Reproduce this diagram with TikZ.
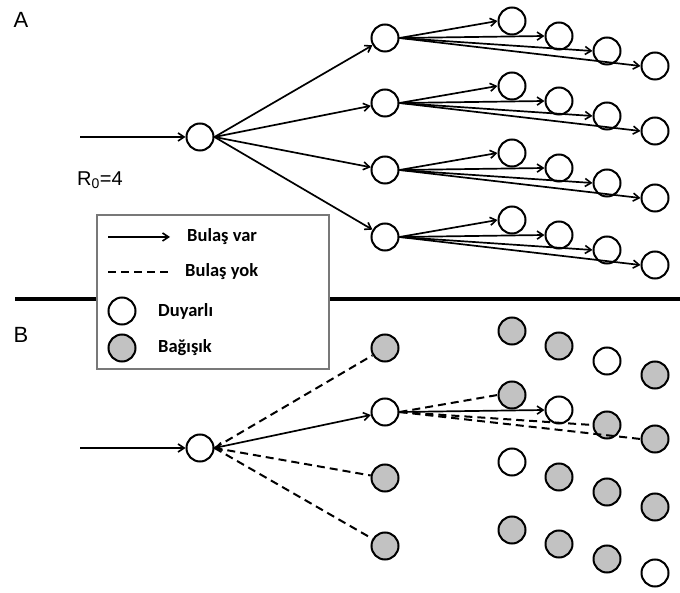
\documentclass[tikz,border=0pt]{standalone}
\usepackage{fontspec}
\setmainfont{Liberation Sans}
\newfontfamily\legendfont{Carlito}
\usetikzlibrary{arrows.meta}
\definecolor{immune}{RGB}{194,194,194}
\definecolor{boxline}{RGB}{120,120,120}
\tikzset{
  person/.style={circle, draw=black, line width=2pt, minimum size=27pt, inner sep=0pt, fill=white},
  susc/.style={person},
  immun/.style={person, fill=immune},
  barb/.tip={Straight Barb[length=6pt,width=8pt,line width=1.6pt]},
  spread/.style={line width=1.7pt, -barb},
  nospread/.style={line width=2pt, dash pattern=on 8pt off 5pt},
  panel/.style={font=\fontsize{22}{24}\selectfont, anchor=center},
  legtext/.style={font=\legendfont\bfseries\fontsize{18.5}{20}\selectfont, anchor=west, inner sep=0pt},
}
\begin{document}
\begin{tikzpicture}[x=1pt, y=-1pt]
\useasboundingbox (0,0) rectangle (680,593);

% ---------- panel A: everyone susceptible ----------
\node[panel] (labA) at (21,20) {A};
\coordinate (srcA) at (80,137);
\node[susc] (a0) at (200,137) {};
\node[font=\fontsize{20}{22}\selectfont] (r0) at (100,180) {R\textsubscript{0}=4};
\draw[spread] (srcA) -- (a0);

\foreach \i/\y in {1/38, 2/103, 3/170, 4/237} {
  \node[susc] (a\i) at (385,\y) {};
  \draw[spread] (a0.east) -- (a\i);
  \foreach \j/\x/\dy in {1/512/-17, 2/559/-2, 3/607/13, 4/655/28} {
    \node[susc] (a\i\j) at (\x,\y+\dy) {};
  }
  \foreach \j in {4,3,2,1} {
    \draw[spread] (a\i.east) -- (a\i\j.west);
  }
}

% ---------- separator ----------
\coordinate (sepL) at (15,299);
\coordinate (sepR) at (680,299);
\draw[line width=4pt] (sepL) -- (sepR);

% ---------- legend ----------
\node[draw=boxline, line width=1.2pt, fill=white, minimum width=232pt, minimum height=154pt, inner sep=0pt] (legend) at (213,292) {};
\coordinate (l1a) at (108,237);
\coordinate (l1b) at (170,237);
\draw[spread] (l1a) -- (l1b);
\node[legtext] (t1) at (187,237) {Bulaş var};
\coordinate (l2a) at (108,272);
\coordinate (l2b) at (170,272);
\draw[nospread] (l2a) -- (l2b);
\node[legtext] (t2) at (185,272) {Bulaş yok};
\node[susc] (lsus) at (122,311) {};
\node[legtext] (t3) at (158,311) {Duyarlı};
\node[immun] (limm) at (122,348) {};
\node[legtext] (t4) at (158,348) {Bağışık};

% ---------- panel B: with immune individuals ----------
\node[panel] (labB) at (21,335) {B};
\coordinate (srcB) at (80,448);
\node[susc] (b0) at (200,448) {};
\draw[spread] (srcB) -- (b0);

\node[immun] (b1) at (385,348) {};
\node[susc]  (b2) at (385,412) {};
\node[immun] (b3) at (385,478) {};
\node[immun] (b4) at (385,546) {};

\node[immun] (b11) at (512,331) {};
\node[immun] (b12) at (559,346) {};
\node[susc]  (b13) at (607,361) {};
\node[immun] (b14) at (655,375) {};

\node[immun] (b21) at (512,395) {};
\node[susc]  (b22) at (559,410) {};
\node[immun] (b23) at (607,425) {};
\node[immun] (b24) at (655,439) {};

\node[susc]  (b31) at (512,462) {};
\node[immun] (b32) at (559,477) {};
\node[immun] (b33) at (607,492) {};
\node[immun] (b34) at (655,507) {};

\node[immun] (b41) at (512,530) {};
\node[immun] (b42) at (559,544) {};
\node[immun] (b43) at (607,559) {};
\node[susc]  (b44) at (655,573) {};

\draw[nospread] (b0.east) -- (b1);
\draw[nospread] (b0.east) -- (b3);
\draw[nospread] (b0.east) -- (b4);
\draw[spread, barb-barb] (b0.east) -- (b2);

\draw[nospread] (b2.east) -- (b21.west);
\draw[nospread] (b2.east) -- (b23.west);
\draw[nospread] (b2.east) -- (b24.west);
\draw[spread] (b2.east) -- (b22.west);
\end{tikzpicture}
\end{document}
